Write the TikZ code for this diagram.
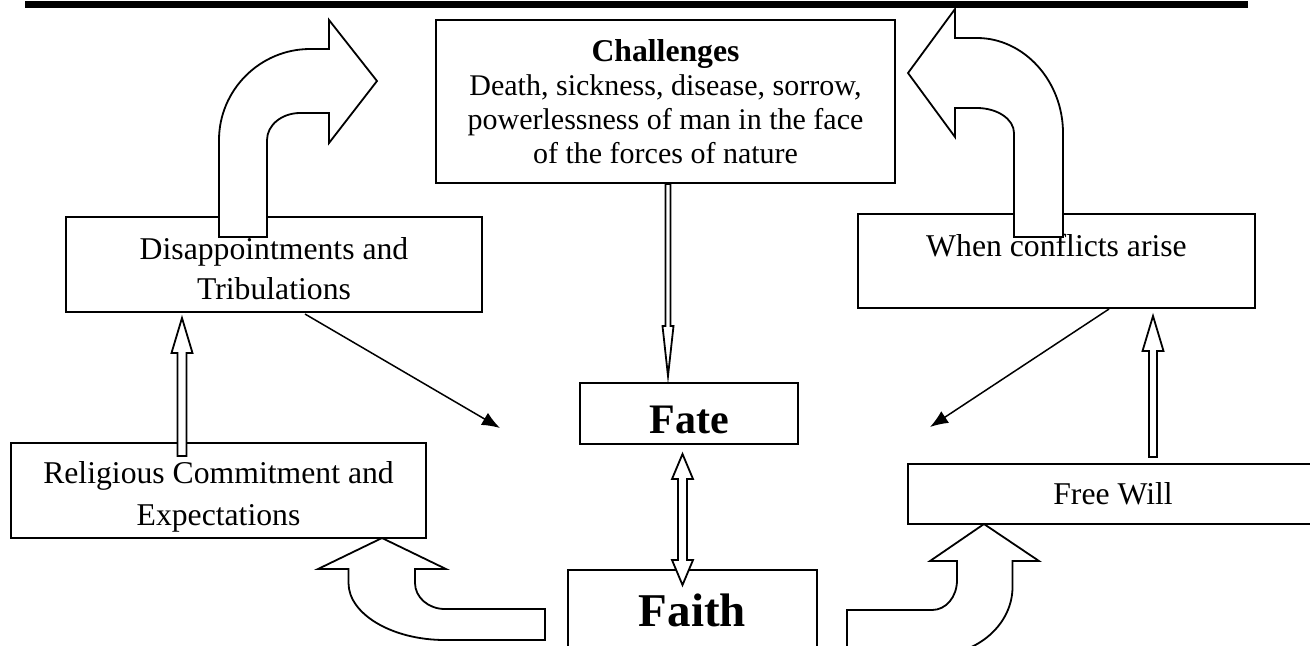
\documentclass[tikz,border=0pt]{standalone}
\usepackage{fontspec}
\setmainfont{Liberation Serif}
\usetikzlibrary{arrows.meta,calc}

\begin{document}
\begin{tikzpicture}[x=0.5pt,y=-0.5pt]
\tikzstyle{box} = [rectangle, draw, line width=1pt, fill=white, align=center,
inner sep=0pt, font=\fontsize{15.85}{20}\selectfont]
\tikzstyle{bent} = [draw, line width=0.9pt, fill=white]
\tikzstyle{line} = [draw, line width=0.75pt, -{Latex[length=9pt,width=7pt]}]
% block arrow along a connector: shaft half width, head half width, head length
\tikzset{hollow/.style n args={3}{draw, line width=0.9pt, fill=white,
to path={($(\tikztostart)!#1!90:(\tikztotarget)$)
 -- ($(\tikztotarget)!#3!(\tikztostart)!#1!90:(\tikztotarget)$)
 -- ($(\tikztotarget)!#3!(\tikztostart)!#2!90:(\tikztotarget)$)
 -- (\tikztotarget)
 -- ($(\tikztotarget)!#3!(\tikztostart)!#2!-90:(\tikztotarget)$)
 -- ($(\tikztotarget)!#3!(\tikztostart)!#1!-90:(\tikztotarget)$)
 -- ($(\tikztostart)!#1!-90:(\tikztotarget)$) -- cycle}}}
\tikzset{hollowboth/.style n args={3}{draw, line width=0.9pt, fill=white,
to path={(\tikztostart)
 -- ($(\tikztostart)!#3!(\tikztotarget)!#2!90:(\tikztotarget)$)
 -- ($(\tikztostart)!#3!(\tikztotarget)!#1!90:(\tikztotarget)$)
 -- ($(\tikztotarget)!#3!(\tikztostart)!#1!90:(\tikztotarget)$)
 -- ($(\tikztotarget)!#3!(\tikztostart)!#2!90:(\tikztotarget)$)
 -- (\tikztotarget)
 -- ($(\tikztotarget)!#3!(\tikztostart)!#2!-90:(\tikztotarget)$)
 -- ($(\tikztotarget)!#3!(\tikztostart)!#1!-90:(\tikztotarget)$)
 -- ($(\tikztostart)!#3!(\tikztotarget)!#1!-90:(\tikztotarget)$)
 -- ($(\tikztostart)!#3!(\tikztotarget)!#2!-90:(\tikztotarget)$) -- cycle}}}

\useasboundingbox (0,0) rectangle (1310,645);
\clip (0,0) rectangle (1310,645);

% header rule
\fill (25,1) rectangle (1248,7.5);

% boxes
\node [box, minimum width=229.5pt, minimum height=81.5pt,
font=\fontsize{15}{17}\selectfont] (chal) at (665.5,101.5)
{{\fontsize{15.85}{17}\selectfont\bfseries Challenges}\\
Death, sickness, disease, sorrow,\\
powerlessness of man in the face\\
of the forces of nature};
\node [box, minimum width=208pt, minimum height=47.5pt] (disap) at (274,264.5)
{\mbox{}\\[-5pt]Disappointments and\\Tribulations};
\node [box, minimum width=198.5pt, minimum height=47pt] (conf) at (1056.5,261)
{When conflicts arise\\[-4pt]\mbox{}};
\node [box, minimum width=207.5pt, minimum height=47.5pt,
font=\fontsize{15.85}{21}\selectfont] (relig) at (218.5,490.5)
{\mbox{}\\[-4pt]Religious Commitment and\\Expectations};
\node [box, minimum width=109pt, minimum height=30.5pt, text height=20pt,
text depth=0pt, font=\fontsize{21}{25}\selectfont\bfseries] (fate) at (689,413.5) {Fate};
\node [box, anchor=north, minimum width=124.5pt, text height=28pt, text depth=32pt,
font=\fontsize{23.5}{28}\selectfont\bfseries] (faith) at (692.5,569) {Faith};
\node [box, minimum width=205.5pt, minimum height=30pt] (freew) at (1113,494) {Free Will};

% bent block arrows
\path [bent] (219,237) -- (219,140) .. controls (219,90) and (260,49) .. (310,49)
 -- (329,49) -- (329,20) -- (377,81) -- (329,143) -- (329,113) -- (300,113)
 .. controls (282,113) and (267,125) .. (267,140) -- (267,237) -- cycle;
\path [bent] (1063,237) -- (1063,133) .. controls (1063,81) and (1024,38) .. (977,38)
 -- (955,38) -- (955,9) -- (908,73) -- (955,137) -- (955,108) -- (977,108)
 .. controls (997,108) and (1014,119) .. (1014,133) -- (1014,237) -- cycle;
\path [bent] (382,538) -- (446,569) -- (415,569) -- (415,583)
 .. controls (415,597) and (428,609) .. (445,609) -- (545,609) -- (545,640) -- (445,640)
 .. controls (392,640) and (348.5,614) .. (348.5,583) -- (348.5,569) -- (318,569) -- cycle;
\path [bent] (984,524) -- (1039,561) -- (1012.5,561) -- (1012.5,587)
 .. controls (1012.5,624) and (978,655) .. (935,655) -- (847,655) -- (847,610) -- (932,610)
 .. controls (946,610) and (957,597) .. (957,580) -- (957,561) -- (930,561) -- cycle;

% connectors
\draw [hollow={2.25pt}{5.25pt}{17.5pt}] ([shift={(-36.5,14)}]relig.north)
 to ([shift={(-92,5)}]disap.south);
\draw [hollow={2pt}{5.25pt}{17.5pt}] ([shift={(40,-6)}]freew.north)
 to ([shift={(96.5,7)}]conf.south);
\draw [hollow={1.25pt}{2.75pt}{25pt}] ([shift={(2.5,0)}]chal.south)
 to ([shift={(-21,-6)}]fate.north);
\draw [hollowboth={2.25pt}{5.25pt}{12.5pt}] ([shift={(-6.5,9)}]fate.south)
 to ([shift={(-10,16)}]faith.north);

\coordinate (ldrop) at (500,428);
\coordinate (rdrop) at (930,427);
\path [line] ([shift={(31,1)}]disap.south) -- (ldrop);
\path [line] ([shift={(52.5,0)}]conf.south) -- (rdrop);
\end{tikzpicture}
\end{document}
